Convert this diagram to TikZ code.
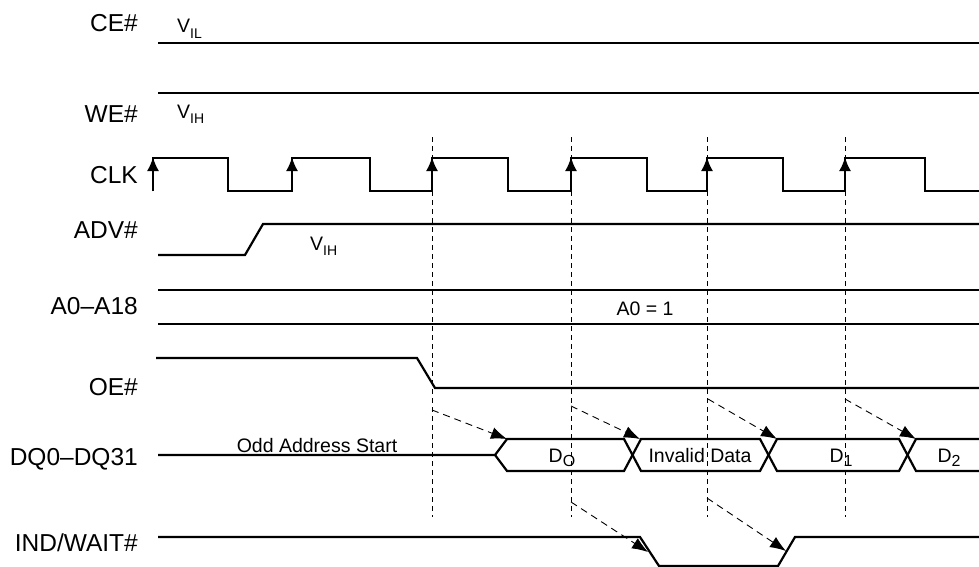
\documentclass[tikz,border=0pt]{standalone}
\usepackage{fontspec}
\setmainfont{Liberation Sans}
\usepackage{tikz}
\usetikzlibrary{arrows.meta}
\tikzset{
    signal/.style={line width=2.2pt, line join=miter},
    guide/.style={line width=0.9pt, dash pattern=on 5pt off 4pt},
    edge arrow/.style={-{Latex[length=14pt, width=12pt]}, line width=2.2pt},
    delay arrow/.style={-{Latex[length=16pt, width=12pt]}, line width=0.9pt, dash pattern=on 7pt off 5pt},
    signal label/.style={anchor=base east, inner sep=0pt, font=\fontsize{24.5}{28}\selectfont},
    level label/.style={inner sep=0pt, font=\fontsize{19.5}{23}\selectfont}
}
\newcommand{\vsub}[1]{\raisebox{-0.3em}{\fontsize{14}{14}\selectfont #1}}
\newcommand{\dsub}[1]{\raisebox{-4pt}{\fontsize{16}{16}\selectfont #1}}

\begin{document}
\begin{tikzpicture}[x=1pt, y=-1pt]
    \useasboundingbox (0,0) rectangle (979,567);

    % Signal names
    \node[signal label] (ce) at (138,32) {CE\#};
    \node[signal label] (we) at (138,123) {WE\#};
    \node[signal label] (clk) at (138,183) {CLK};
    \node[signal label] (adv) at (138,238) {ADV\#};
    \node[signal label] (addr) at (138,314) {A0–A18};
    \node[signal label] (oe) at (138,395) {OE\#};
    \node[signal label] (dq) at (138,465) {DQ0–DQ31};
    \node[signal label] (wait) at (138,551) {IND/WAIT\#};

    % Clock edges (dashed guides)
    \draw[guide] (432,137) -- (432,517);
    \draw[guide] (571,137) -- (571,517);
    \draw[guide] (707,137) -- (707,517);
    \draw[guide] (845,137) -- (845,517);

    % CE# and WE#
    \draw[signal] (158,43) -- (979,43);
    \node[level label, anchor=base west] (vil) at (177,33) {V\vsub{IL}};
    \draw[signal] (158,93) -- (979,93);
    \node[level label, anchor=base west] (vih1) at (177,118) {V\vsub{IH}};

    % CLK
    \draw[signal] (153,191) -- (153,158) -- (228,158) -- (228,191) -- (292,191)
        -- (292,158) -- (370,158) -- (370,191) -- (432,191) -- (432,158)
        -- (508,158) -- (508,191) -- (571,191) -- (571,158) -- (647,158)
        -- (647,191) -- (707,191) -- (707,158) -- (783,158) -- (783,191)
        -- (845,191) -- (845,158) -- (925,158) -- (925,191) -- (979,191);
    \draw[edge arrow] (153,191) -- (153,157);
    \draw[edge arrow] (292,191) -- (292,157);
    \draw[edge arrow] (432,191) -- (432,157);
    \draw[edge arrow] (571,191) -- (571,157);
    \draw[edge arrow] (707,191) -- (707,157);
    \draw[edge arrow] (845,191) -- (845,157);

    % ADV#
    \draw[signal] (158,255) -- (245,255) -- (263,224) -- (979,224);
    \node[level label, anchor=base west] (vih2) at (310,250) {V\vsub{IH}};

    % Address
    \draw[signal] (158,290) -- (979,290);
    \draw[signal] (158,324) -- (979,324);
    \node[level label, anchor=base] (a0) at (645,315) {A0 = 1};

    % OE#
    \draw[signal] (156,358) -- (417,358) -- (435,388) -- (979,388);

    % DQ bus
    \draw[signal] (158,455) -- (495,455) -- (507,439) -- (624,439) -- (641,471)
        -- (760,471) -- (777,439) -- (899,439) -- (916,471) -- (979,471);
    \draw[signal] (495,455) -- (507,471) -- (624,471) -- (641,439)
        -- (760,439) -- (777,471) -- (899,471) -- (916,439) -- (979,439);
    \node[level label, anchor=base] (odd) at (317,452) {Odd Address Start};
    \node[level label, anchor=base] (d0) at (562,462) {D\dsub{O}};
    \node[level label, anchor=base] (inv) at (700,462) {Invalid Data};
    \node[level label, anchor=base] (d1) at (841,462) {D\dsub{1}};
    \node[level label, anchor=base] (d2) at (949,462) {D\dsub{2}};

    % IND/WAIT#
    \draw[signal] (158,537) -- (640,537) -- (659,566) -- (778,566) -- (795,537) -- (979,537);

    % Access delays
    \coordinate (s0) at (432,410);
    \coordinate (s1) at (571,406);
    \coordinate (s2) at (708,399);
    \coordinate (s3) at (845,399);
    \coordinate (e0) at (507,439);
    \coordinate (e1) at (640,439);
    \coordinate (e2) at (777,439);
    \coordinate (e3) at (916,439);
    \draw[delay arrow] (s0) -- (e0);
    \draw[delay arrow] (s1) -- (e1);
    \draw[delay arrow] (s2) -- (e2);
    \draw[delay arrow] (s3) -- (e3);
    \coordinate (w0) at (571,502);
    \coordinate (w1) at (707,498);
    \coordinate (f0) at (648,552);
    \coordinate (f1) at (786,551);
    \draw[delay arrow] (w0) -- (f0);
    \draw[delay arrow] (w1) -- (f1);
\end{tikzpicture}
\end{document}
